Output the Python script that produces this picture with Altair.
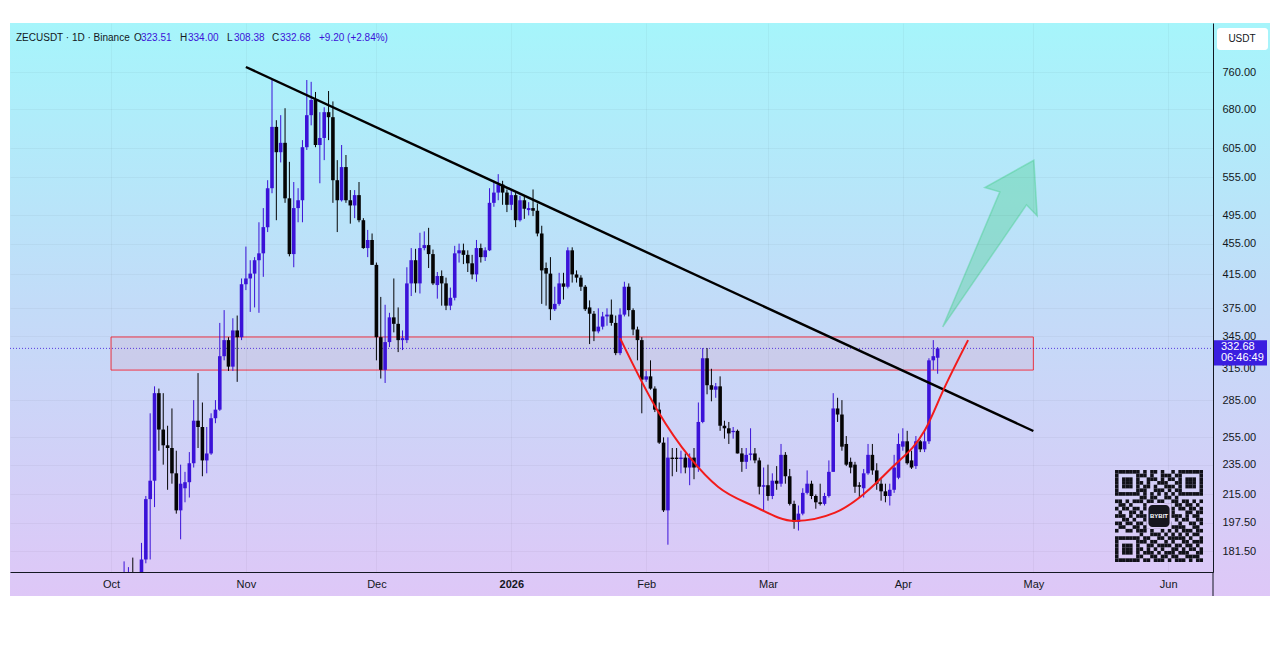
import altair as alt
import pandas as pd
import numpy as np

FONT = "Liberation Sans"
UP = "#3b12d8"
DOWN = "#050505"
TEXT = "#131722"

# ---------------- daily candles (ZECUSDT 1D), first day 2025-10-01 ----------------
start_day = "2025-10-01"
opens = [74, 78, 92, 135, 150, 160, 152, 165, 177, 212, 224, 291, 261, 249, 247, 229, 205, 219, 223, 236,
         268, 263, 238, 243, 270, 277, 325, 341, 315, 351, 344, 403, 410, 416, 433, 442, 478, 537, 645, 598,
         615, 521, 441, 506, 518, 607, 668, 699, 611, 624, 674, 664, 550, 518, 572, 518, 510, 526, 488, 449,
         460, 427, 344, 312, 339, 365, 358, 341, 341, 404, 433, 404, 449, 453, 441, 402, 413, 404, 378, 387,
         442, 446, 440, 429, 415, 449, 437, 446, 514, 530, 543, 530, 511, 526, 488, 518, 503, 506, 502, 469,
         423, 416, 374, 380, 404, 400, 446, 415, 411, 400, 376, 369, 350, 355, 366, 368, 359, 328, 368, 400,
         373, 352, 341, 303, 306, 295, 277, 251, 205, 240, 240, 239, 240, 233, 240, 233, 267, 323, 298, 294,
         297, 264, 262, 259, 260, 243, 237, 242, 243, 238, 220, 221, 214, 224, 222, 242, 227, 209, 198, 203,
         216, 222, 214, 210, 209, 214, 230, 278, 273, 250, 237, 235, 221, 219, 229, 242, 231, 222, 217, 214,
         218, 226, 248, 252, 238, 234, 252, 246, 252, 321, 323.51]
highs = [80, 95, 140, 176, 173, 178, 168, 186, 214, 274, 297, 295, 291, 264, 278, 245, 235, 230, 244, 285,
         309, 283, 263, 274, 285, 359, 373, 344, 364, 367, 410, 451, 433, 437, 485, 506, 550, 742, 658, 668,
         682, 581, 547, 537, 620, 742, 738, 716, 674, 684, 718, 696, 584, 611, 593, 534, 534, 547, 491, 474,
         469, 430, 388, 379, 370, 410, 376, 351, 424, 449, 448, 470, 472, 477, 447, 418, 420, 411, 399, 452,
         455, 455, 446, 440, 460, 455, 450, 537, 549, 560, 549, 535, 535, 530, 525, 525, 515, 535, 513, 480,
         430, 437, 400, 417, 417, 450, 450, 420, 414, 402, 384, 372, 375, 371, 375, 385, 367, 375, 406, 404,
         375, 355, 344, 311, 321, 297, 283, 255, 255, 247, 247, 245, 243, 243, 247, 283, 333, 333, 313, 300,
         306, 268, 267, 263, 261, 247, 247, 262, 247, 240, 233, 235, 229, 234, 250, 244, 232, 211, 208, 219,
         231, 224, 215, 222, 216, 238, 291, 287, 285, 256, 240, 237, 223, 232, 250, 250, 236, 225, 222, 222,
         242, 258, 262, 260, 245, 256, 253, 261, 323, 341, 334.00]
lows = [72, 76, 90, 125, 140, 145, 140, 160, 175, 177, 207, 245, 235, 218, 222, 203, 188, 210, 213, 233,
        247, 227, 229, 242, 266, 276, 321, 311, 311, 301, 341, 396, 371, 376, 370, 412, 471, 529, 488, 580,
        514, 438, 424, 485, 485, 602, 648, 607, 545, 584, 620, 514, 471, 516, 514, 483, 491, 485, 448, 437,
        427, 321, 304, 300, 334, 349, 329, 331, 338, 389, 393, 392, 446, 423, 402, 386, 378, 373, 373, 384,
        430, 428, 418, 409, 406, 430, 432, 445, 508, 518, 511, 500, 503, 478, 486, 490, 495, 494, 465, 380,
        378, 362, 372, 378, 385, 398, 405, 405, 395, 372, 337, 340, 348, 352, 356, 356, 326, 326, 366, 366,
        346, 321, 274, 301, 294, 275, 250, 204, 185, 227, 230, 229, 229, 221, 225, 230, 266, 290, 284, 287,
        260, 254, 250, 254, 243, 230, 232, 238, 236, 215, 205, 211, 212, 218, 220, 222, 208, 194, 193, 202,
        215, 212, 206, 208, 208, 213, 230, 267, 245, 234, 229, 216, 213, 213, 228, 228, 218, 211, 210, 208,
        216, 225, 245, 235, 232, 232, 244, 244, 250, 312, 308.38]
closes = [78, 92, 135, 150, 160, 152, 165, 177, 212, 224, 291, 261, 249, 247, 229, 205, 222, 223, 236, 268,
          263, 238, 243, 270, 277, 325, 341, 315, 351, 344, 403, 410, 416, 433, 442, 478, 537, 645, 598, 615,
          521, 441, 506, 518, 607, 668, 699, 611, 624, 674, 664, 550, 518, 572, 518, 510, 526, 488, 449, 460,
          427, 344, 312, 339, 365, 358, 341, 343, 404, 433, 404, 449, 453, 441, 404, 413, 404, 378, 387, 442,
          446, 440, 429, 415, 449, 437, 446, 514, 530, 543, 530, 511, 526, 488, 518, 505, 506, 502, 469, 420,
          416, 374, 380, 404, 400, 446, 415, 411, 400, 374, 369, 350, 355, 366, 368, 359, 328, 368, 400, 373,
          352, 341, 303, 306, 295, 277, 251, 205, 240, 239, 239, 240, 233, 240, 233, 267, 323, 298, 294, 297,
          264, 262, 258, 260, 243, 237, 242, 243, 238, 220, 221, 214, 224, 222, 242, 227, 209, 198, 203, 216,
          222, 214, 210, 209, 214, 230, 278, 273, 248, 235, 233, 220, 220, 229, 242, 231, 222, 217, 214, 218,
          233, 250, 252, 236, 233, 252, 246, 252, 321, 325, 332.68]

# ---------------- drawings ----------------
trend_dates = ["2025-11-01", "2026-05-01"]
trend_prices = [771.4, 259.9]
zone_start, zone_end = "2025-10-01", "2026-05-01"
zone_low, zone_high = 311.8, 344.2
cup_dates = ["2026-01-26T00:00:00Z", "2026-02-03T12:00:00Z", "2026-02-11T02:00:00Z", "2026-02-17T12:00:00Z",
             "2026-02-25T10:00:00Z", "2026-03-07T05:00:00Z", "2026-03-16T10:00:00Z", "2026-03-29T12:00:00Z",
             "2026-04-06T02:00:00Z", "2026-04-10T17:00:00Z", "2026-04-16T00:00:00Z"]
cup_prices = [343, 277, 240, 220, 208, 198.6, 203.6, 233, 260.6, 297, 341]
arrow_date, arrow_price = "2026-04-21", 455
last_price = 332.68
y_ticks = [181.5, 197.5, 215, 235, 255, 285, 345, 375, 415, 455, 495, 555, 605, 680, 760]
month_starts = ["2025-10-01", "2025-11-01", "2025-12-01", "2026-01-01", "2026-02-01",
                "2026-03-01", "2026-04-01", "2026-05-01", "2026-06-01"]
header_parts = [("ZECUSDT · 1D · Binance", TEXT, 6), ("O", TEXT, 124), ("323.51", UP, 131),
                ("H", TEXT, 170), ("334.00", UP, 178), ("L", TEXT, 217), ("308.38", UP, 224),
                ("C", TEXT, 262), ("332.68", UP, 270), ("+9.20 (+2.84%)", UP, 309)]

qr_rows = [
    "1111111" + "01011010010" + "1111111",
    "1000001" + "11010011101" + "1000001",
    "1011101" + "00111010110" + "1011101",
    "1011101" + "10100111001" + "1011101",
    "1011101" + "01101001110" + "1011101",
    "1000001" + "11001110101" + "1000001",
    "1111111" + "01010101010" + "1111111",
    "0000000" + "11011001101" + "0000000",
    "1101011" + "10110110011" + "0110101",
    "0110100" + "01101001101" + "1011010",
    "1011011" + "01110100110" + "1101101",
    "0100110" + "10011011010" + "0011011",
    "1110101" + "11100100111" + "1010110",
    "0011010" + "01011101001" + "0110011",
    "1101101" + "10100011100" + "1001101",
    "0110011" + "01101110011" + "1100110",
    "1001101" + "11010010101" + "0111011",
    "0000000" + "10011101010" + "1010110",
    "1111111" + "01100110111" + "1101001",
    "1000001" + "11011001010" + "0110111",
    "1011101" + "00110111101" + "1011010",
    "1011101" + "10101010011" + "0101101",
    "1011101" + "01110101110" + "1110011",
    "1000001" + "10011011011" + "0011110",
    "1111111" + "01101110101" + "1101011",
]

# ---------------- tables ----------------
dates = pd.date_range(start_day, periods=len(opens), freq="D").strftime("%Y-%m-%d").tolist()
df = pd.DataFrame(dict(date=dates, open=opens, high=highs, low=lows, close=closes))
df["dir"] = np.where(df["close"] >= df["open"], "up", "down")


def ms(s):
    return int(pd.Timestamp(s, tz="UTC").value // 10**6)


W, H = 1203, 549
x_domain = [ms("2025-09-07 18:40"), ms("2026-06-11 07:00")]
y_domain = [170.5, 879.9]

x_axis = alt.Axis(values=[ms(m) for m in month_starts], title=None, ticks=False, labelPadding=12,
                  labelBaseline="middle", labelFontSize=11, labelFont=FONT, labelColor=TEXT,
                  labelExpr="utcmonth(datum.value) == 0 ? utcFormat(datum.value, '%Y') : utcFormat(datum.value, '%b')",
                  labelFontWeight={"condition": {"test": "utcmonth(datum.value) == 0", "value": "bold"}, "value": "normal"},
                  domainColor=TEXT, domainWidth=1, grid=True, gridColor="#000000", gridOpacity=0.035,
                  zindex=1, labelOverlap=False, labelFlush=False)
y_axis = alt.Axis(orient="right", values=y_ticks, format=".2f", title=None, ticks=False, labelPadding=9,
                  labelFontSize=11, labelFont=FONT, labelColor=TEXT, labelAlign="left", labelBaseline="middle",
                  domainColor=TEXT, domainWidth=1, grid=True, gridColor="#000000", gridOpacity=0.035,
                  zindex=1, labelOverlap=False, labelFlush=False)
xs = alt.Scale(type="utc", domain=x_domain, nice=False, padding=0)
ys = alt.Scale(type="log", domain=y_domain, nice=False, zero=False, padding=0)


def X(field):
    return alt.X(field, type="temporal", scale=xs, axis=x_axis)


def Y(field):
    return alt.Y(field, type="quantitative", scale=ys, axis=y_axis)


one = pd.DataFrame({"a": [0]})

bg = alt.Chart(one).mark_rect(
    color=alt.Gradient(gradient="linear", x1=0, y1=0, x2=0, y2=1,
                       stops=[alt.GradientStop(offset=0, color="#a6f5fb"),
                              alt.GradientStop(offset=0.5, color="#c3dbf8"),
                              alt.GradientStop(offset=1, color="#dec7f7")])
).encode(x=alt.value(0), x2=alt.value(1260), y=alt.value(0), y2=alt.value(573))

zone_df = pd.DataFrame(dict(s=[zone_start], e=[zone_end], lo=[zone_low], hi=[zone_high]))
zone = alt.Chart(zone_df).mark_rect(fill="#f23645", fillOpacity=0.07, stroke="#f23645",
                                    strokeWidth=1, clip=True).encode(
    x=X("s"), x2="e", y=Y("lo"), y2="hi")

price_line = alt.Chart(pd.DataFrame({"p": [last_price]})).mark_rule(
    color=UP, strokeDash=[1, 2], strokeWidth=1, opacity=0.8).encode(
    y=Y("p"), x=alt.value(0), x2=alt.value(W))

wick = alt.Chart(df).mark_rule(strokeWidth=1, clip=True).encode(
    x=X("date"), y=Y("low"), y2="high",
    color=alt.Color("dir:N", scale=alt.Scale(domain=["up", "down"], range=[UP, DOWN]), legend=None))
body = alt.Chart(df).mark_bar(width=3.6, clip=True).encode(
    x=X("date"), y=Y("open"), y2="close",
    color=alt.Color("dir:N", scale=alt.Scale(domain=["up", "down"], range=[UP, DOWN]), legend=None))

trend = alt.Chart(pd.DataFrame(dict(d=trend_dates, p=trend_prices))).mark_line(
    color="#000000", strokeWidth=2.4, clip=True).encode(x=X("d"), y=Y("p"))
cup = alt.Chart(pd.DataFrame(dict(d=cup_dates, p=cup_prices))).mark_line(
    color="#f21b1b", strokeWidth=2, interpolate="monotone", clip=True).encode(x=X("d"), y=Y("p"))

arrow_path = "M-0.566,1 L0.12,-0.621 L-0.06,-0.674 L0.528,-1 L0.568,-0.334 L0.44,-0.466 Z"
arrow = alt.Chart(pd.DataFrame(dict(d=[arrow_date], p=[arrow_price]))).mark_point(
    shape=arrow_path, size=27756, filled=True, fill="#54d29a", fillOpacity=0.42,
    stroke="#54d29a", strokeOpacity=0.5, strokeWidth=1.5, opacity=1).encode(x=X("d"), y=Y("p"))

# half-hidden 315 label and the last-price tag on the price scale
lbl315 = alt.Chart(pd.DataFrame({"p": [315]})).mark_text(
    text="315.00", align="left", baseline="middle", fontSize=11, font=FONT, color=TEXT, dy=2).encode(
    y=Y("p"), x=alt.value(1212))
tag_path = "M-1,-0.3 L1,-0.3 L1,0.63 L-1,0.63 Z"
tag_df = pd.DataFrame({"p": [last_price]})
tag = alt.Chart(tag_df).mark_point(shape=tag_path, size=2916, filled=True, fill="#3a1ee0",
                                   opacity=1, strokeWidth=0).encode(y=Y("p"), x=alt.value(1230))
tag_t1 = alt.Chart(tag_df).mark_text(text="332.68", align="left", baseline="middle", fontSize=11,
                                     font=FONT, color="white", dy=-1).encode(y=Y("p"), x=alt.value(1211))
tag_t2 = alt.Chart(tag_df).mark_text(text="06:46:49", align="left", baseline="middle", fontSize=11,
                                     font=FONT, color="white", dy=10).encode(y=Y("p"), x=alt.value(1211))

usdt_box = alt.Chart(one).mark_rect(fill="white", cornerRadius=3).encode(
    x=alt.value(1207), x2=alt.value(1258), y=alt.value(5), y2=alt.value(27))
usdt_txt = alt.Chart(one).mark_text(text="USDT", fontSize=10, font=FONT, color=TEXT,
                                    align="center", baseline="middle").encode(x=alt.value(1232), y=alt.value(16))
axis_ext = alt.Chart(one).mark_rule(color=TEXT, strokeWidth=1).encode(
    x=alt.value(W), y=alt.value(H), y2=alt.value(573))

header = [alt.Chart(one).mark_text(text=t, color=c, fontSize=10, font=FONT, align="left",
                                   baseline="middle").encode(x=alt.value(px), y=alt.value(15))
          for t, c, px in header_parts]

main = alt.layer(bg, zone, price_line, wick, body, trend, cup, arrow, lbl315, tag, tag_t1, tag_t2,
                 usdt_box, usdt_txt, axis_ext, *header)

# ---------------- QR watermark ----------------
cells = [(c, r) for r, row in enumerate(qr_rows) for c, ch in enumerate(row) if ch == "1"]
qr_df = pd.DataFrame(cells, columns=["c", "r"])
qr_df["c2"] = qr_df["c"] + 1
qr_df["r2"] = qr_df["r"] + 1
qx = alt.Scale(domain=[0, 25], range=[1105, 1193])
qy = alt.Scale(domain=[0, 25], range=[447, 539])
qr_cells = alt.Chart(qr_df).mark_rect(color="#111118").encode(
    x=alt.X("c:Q", scale=qx, axis=None), x2="c2", y=alt.Y("r:Q", scale=qy, axis=None), y2="r2")
logo_df = pd.DataFrame(dict(c=[9.0], c2=[16.0], r=[9.0], r2=[16.0]))
logo_gap = alt.Chart(logo_df).mark_rect(color="#d9cbf7").encode(
    x=alt.X("c:Q", scale=qx, axis=None), x2="c2", y=alt.Y("r:Q", scale=qy, axis=None), y2="r2")
logo_df2 = pd.DataFrame(dict(c=[9.5], c2=[15.5], r=[9.5], r2=[15.5], cx=[12.5], cy=[12.5]))
logo = alt.Chart(logo_df2).mark_rect(color="#17171f", cornerRadius=4).encode(
    x=alt.X("c:Q", scale=qx, axis=None), x2="c2", y=alt.Y("r:Q", scale=qy, axis=None), y2="r2")
logo_txt = alt.Chart(logo_df2).mark_text(text="BYBIT", color="white", fontSize=6, fontWeight="bold",
                                         font=FONT).encode(
    x=alt.X("cx:Q", scale=qx, axis=None), y=alt.Y("cy:Q", scale=qy, axis=None))
qr = alt.layer(qr_cells, logo_gap, logo, logo_txt)

chart = alt.layer(main, qr).resolve_scale(x="independent", y="independent").properties(
    width=W, height=H, padding={"left": 2, "top": 15, "right": 57, "bottom": 30},
    autosize=alt.AutoSizeParams(type="none")
).configure_view(stroke=None).configure(background="white")

chart.save("out.html", embed_options={"renderer": "svg", "actions": False})
